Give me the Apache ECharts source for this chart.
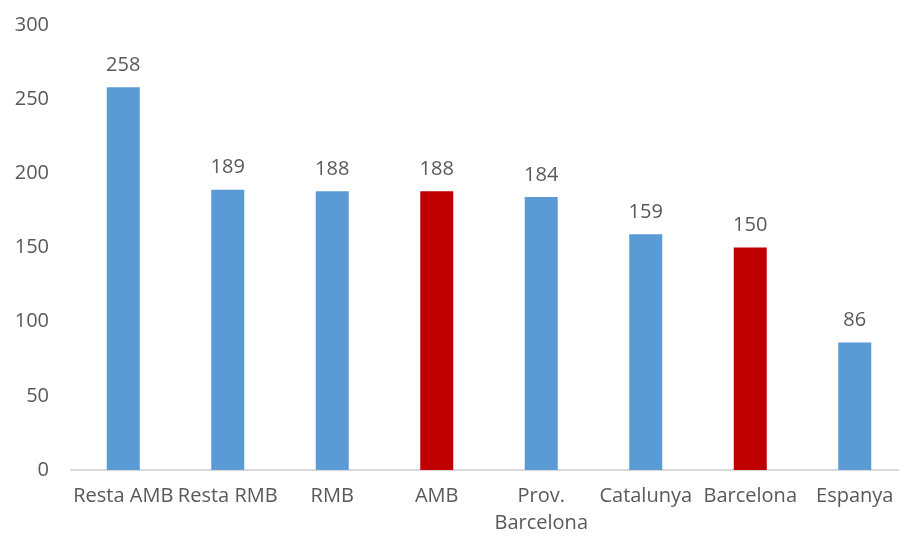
<!DOCTYPE html>
<html>
<head>
<meta charset="utf-8">
<script src="https://cdn.jsdelivr.net/npm/echarts@6/dist/echarts.min.js"></script>
<style>
  html, body { margin: 0; padding: 0; background: #fff; }
  #chart { width: 899px; height: 538px; }
</style>
</head>
<body>
<div id="chart"></div>
<script>
const categories = ["Resta AMB", "Resta RMB", "RMB", "AMB", "Prov.\nBarcelona", "Catalunya", "Barcelona", "Espanya"];
const values = [258, 189, 188, 188, 184, 159, 150, 86];
// highlighted bars (red) vs the rest (blue)
const highlighted = ["AMB", "Barcelona"];

const blue = "#5B9BD5";
const red = "#C00000";
const textColor = "#595959";

const chart = echarts.init(document.getElementById("chart"));

const option = {
  animation: false,
  grid: {
    left: 71,
    width: 836,
    top: 25,
    bottom: 68,
    containLabel: false,
    outerBoundsMode: "none",
  },
  xAxis: {
    type: "category",
    data: categories,
    axisLine: { lineStyle: { color: "#D9D9D9", width: 2 } },
    axisTick: { show: false },
    axisLabel: {
      interval: 0,
      color: textColor,
      fontSize: 20,
      fontFamily: "Open Sans",
      margin: 13,
      lineHeight: 27,
    },
  },
  yAxis: {
    type: "value",
    min: 0,
    max: 300,
    interval: 50,
    axisLine: { show: false },
    axisTick: { show: false },
    splitLine: { show: false },
    axisLabel: {
      color: textColor,
      fontSize: 20,
      fontFamily: "Open Sans",
      margin: 22,
    },
  },
  series: [
    {
      type: "bar",
      barWidth: 33,
      data: values.map((v, i) => ({
        value: v,
        itemStyle: { color: highlighted.includes(categories[i]) ? red : blue },
      })),
      label: {
        show: true,
        position: "top",
        distance: 12,
        color: textColor,
        fontSize: 20,
        fontFamily: "Open Sans",
      },
    },
  ],
};

chart.setOption(option);
</script>
</body>
</html>
